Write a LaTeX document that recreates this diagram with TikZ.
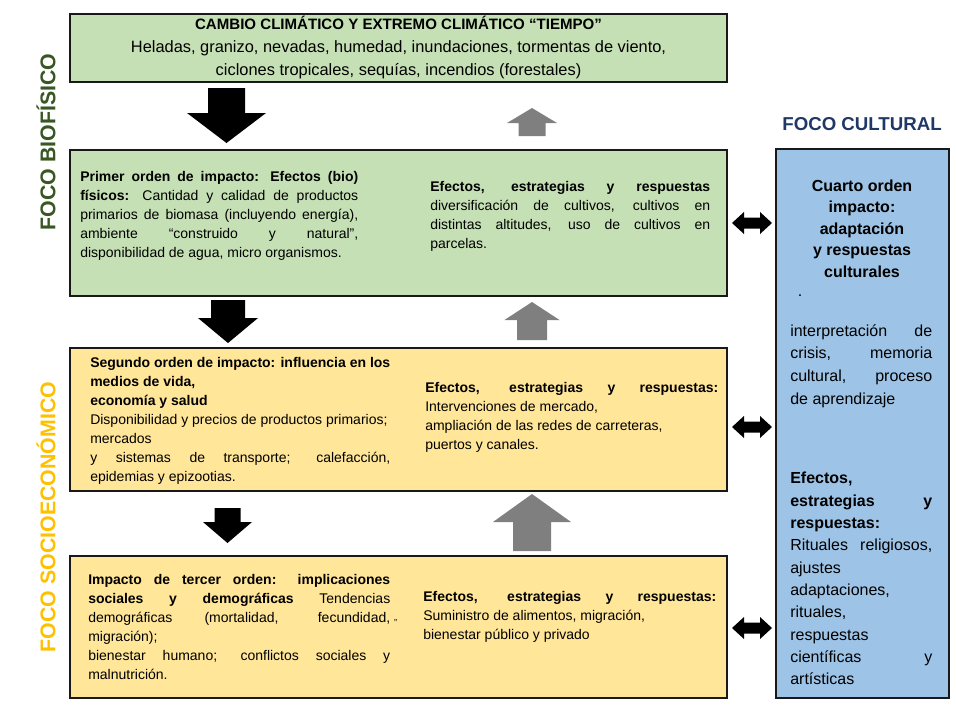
\documentclass[tikz,border=0pt]{standalone}
\usepackage{fontspec}
\setmainfont{Liberation Sans}
\usetikzlibrary{fit,positioning}
\definecolor{bioFill}{RGB}{197,224,180}
\definecolor{socFill}{RGB}{255,230,153}
\definecolor{culFill}{RGB}{157,195,230}
\definecolor{bioText}{RGB}{56,87,35}
\definecolor{socText}{RGB}{255,192,0}
\definecolor{culText}{RGB}{31,56,100}
\definecolor{upGray}{RGB}{127,127,127}
\tikzset{
    box/.style={draw=black!90,line width=2pt,inner sep=0pt},
    body/.style={inner sep=0pt,align=justify,anchor=west,font=\fontsize{10.5}{14.25}\selectfont},
    cult/.style={inner sep=0pt,align=justify,anchor=west,text width=106.5pt,font=\fontsize{12}{16.9}\selectfont},
    focus/.style={inner sep=0pt,font=\fontsize{16}{18}\selectfont\bfseries}
}
% x, y start, y head, y tip, half shaft, half head, colour
\newcommand{\blockarrow}[7]{%
    \fill[#7] (#1-#5,#2) -- (#1+#5,#2) -- (#1+#5,#3) -- (#1+#6,#3) -- (#1,#4)
        -- (#1-#6,#3) -- (#1-#5,#3) -- cycle;}
\newcommand{\linkarrow}[1]{%
    \fill (732,#1) -- (744,#1-11) -- (744,#1-5.5) -- (760,#1-5.5) -- (760,#1-11)
        -- (772,#1) -- (760,#1+11) -- (760,#1+5.5) -- (744,#1+5.5) -- (744,#1+11) -- cycle;}

\begin{document}
\begin{tikzpicture}[x=0.75pt,y=-0.75pt]
    \useasboundingbox (0,0) rectangle (956,704);
    % boxes
    \node[box,fill=bioFill,fit={(70,14) (727,82)}] (clima) {};
    \node[box,fill=bioFill,fit={(70,150) (727,296)}] (bio) {};
    \node[box,fill=socFill,fit={(70,348) (727,491)}] (socio) {};
    \node[box,fill=socFill,fit={(70,556) (727,698)}] (social) {};
    \node[box,fill=culFill,line width=1.8pt,fit={(776,149) (949,698)}] (cultura) {};

    % focus labels
    \node[focus,text=bioText,rotate=90] (fbio) at (46,142) {FOCO BIOFÍSICO};
    \node[focus,text=socText,rotate=90] (fsoc) at (46,517) {FOCO SOCIOECONÓMICO};
    \node[focus,text=culText,font=\fontsize{14}{16}\selectfont\bfseries] (fcul) at (862,124) {FOCO CULTURAL};

    % top box
    \node[inner sep=0pt,align=center,font=\fontsize{12.3}{17.25}\selectfont] (climatxt) at (clima.center)
        {{\fontsize{11.3}{17.25}\selectfont\bfseries CAMBIO CLIMÁTICO Y EXTREMO CLIMÁTICO “TIEMPO”}\\
         Heladas, granizo, nevadas, humedad, inundaciones, tormentas de viento,\\
         ciclones tropicales, sequías, incendios (forestales)};

    % first order
    \node[body,text width=208.5pt] (bioL) at (80,216)
        {\textbf{Primer orden de impacto: Efectos (bio)}\linebreak
         \textbf{físicos:} Cantidad y calidad de productos\linebreak
         primarios de biomasa (incluyendo energía),\linebreak
         ambiente “construido y natural”,\linebreak
         disponibilidad de agua, micro organismos.};
    \node[body,text width=210pt] (bioR) at (430,216)
        {\textbf{Efectos, estrategias y respuestas}\linebreak
         diversificación de cultivos, cultivos en\linebreak
         distintas altitudes, uso de cultivos en\linebreak
         parcelas.};

    % second order
    \node[body,text width=225pt] (socL) at (90,421)
        {\textbf{Segundo orden de impacto: influencia en los}\newline
         \textbf{medios de vida,}\newline
         \textbf{economía y salud}\newline
         Disponibilidad y precios de productos primarios;\newline
         mercados\newline
         y sistemas de transporte; calefacción,\linebreak
         epidemias y epizootias.};
    \node[body,text width=219.75pt] (socR) at (425,417)
        {\textbf{Efectos, estrategias y respuestas:}\linebreak
         Intervenciones de mercado,\newline
         ampliación de las redes de carreteras,\newline
         puertos y canales.};

    % third order
    \node[body,text width=226.5pt] (socialL) at (88,627)
        {\textbf{Impacto de tercer orden: implicaciones}\linebreak
         \textbf{sociales y demográficas} Tendencias\linebreak
         demográficas (mortalidad, fecundidad,\rlap{\ \raisebox{1.5pt}{\scriptsize „}}\linebreak
         migración);\newline
         bienestar humano; conflictos sociales y\linebreak
         malnutrición.};
    \node[body,text width=219.75pt] (socialR) at (423,617)
        {\textbf{Efectos, estrategias y respuestas:}\linebreak
         Suministro de alimentos, migración,\newline
         bienestar público y privado};

    % fourth order
    \node[inner sep=0pt,align=center,font=\fontsize{12}{16.2}\selectfont\bfseries] (culTitle) at (862,228.5)
        {Cuarto orden\\ impacto:\\ adaptación\\ y respuestas\\ culturales};
    \node[inner sep=0pt,font=\fontsize{12}{14}\selectfont] (culDot) at (800,296) {.};
    \node[cult] (culCrisis) at (790,366)
        {interpretación de\linebreak
         crisis, memoria\linebreak
         cultural, proceso\linebreak
         de aprendizaje};
    \node[cult,font=\fontsize{12}{16.75}\selectfont] (culResp) at (790,578.5)
        {\textbf{Efectos,}\newline
         \textbf{estrategias y}\linebreak
         \textbf{respuestas:}\newline
         Rituales religiosos,\linebreak
         ajustes\newline
         adaptaciones,\newline
         rituales,\newline
         respuestas\newline
         científicas y\linebreak
         artísticas};

    % impact arrows
    \blockarrow{226.5}{88}{113}{143}{18.5}{39.5}{black}
    \blockarrow{228}{300}{318}{343}{17}{30}{black}
    \blockarrow{227.5}{508}{522}{543}{13}{24.5}{black}
    % response arrows
    \blockarrow{532}{136}{123}{108}{13.5}{25}{upGray}
    \blockarrow{532}{340}{320}{302}{15}{27.5}{upGray}
    \blockarrow{532}{551}{522}{494}{19}{39}{upGray}
    % links to cultural focus
    \linkarrow{223}
    \linkarrow{427}
    \linkarrow{628}
\end{tikzpicture}
\end{document}
